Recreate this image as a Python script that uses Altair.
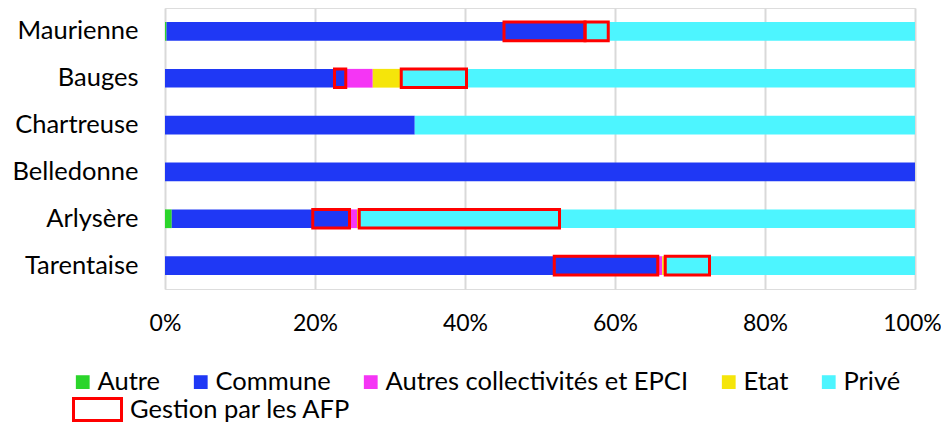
import altair as alt
import pandas as pd

regions = ["Maurienne", "Bauges", "Chartreuse", "Belledonne", "Arlysère", "Tarentaise"]

# share (%) of surface by owner type; "_afp" = part managed by the AFP
autre        = [0.2, 0.0, 0.0, 0.0, 0.9, 0.0]
commune      = [45.0, 22.6, 33.3, 100.0, 18.8, 51.9]
commune_afp  = [10.8, 1.5, 0.0, 0.0, 4.9, 13.8]
autres_coll  = [0.0, 3.6, 0.0, 0.0, 1.0, 0.6]
etat         = [0.0, 3.8, 0.0, 0.0, 0.3, 0.4]
prive_afp    = [3.1, 8.7, 0.0, 0.0, 26.7, 5.9]
prive        = [40.9, 59.8, 66.7, 0.0, 47.4, 27.4]

owners = ["Autre", "Commune", "Autres collectivités et EPCI", "Etat", "Privé"]
colors = ["#2BD52B", "#1F38F5", "#F535F5", "#F5E50A", "#4DF5FF"]
afp_label = "Gestion par les AFP"

segments = [
    ("Autre", False, autre),
    ("Commune", False, commune),
    ("Commune", True, commune_afp),
    ("Autres collectivités et EPCI", False, autres_coll),
    ("Etat", False, etat),
    ("Privé", True, prive_afp),
    ("Privé", False, prive),
]

rows = []
for i, reg in enumerate(regions):
    for k, (owner, is_afp, vals) in enumerate(segments):
        rows.append({
            "region": reg,
            "owner": owner,
            "afp": afp_label if is_afp else "non",
            "value": vals[i],
            "ord": k,
        })
df = pd.DataFrame(rows)

FONT = "Lato"

base = alt.Chart(df).transform_stack(
    stack="value",
    groupby=["region"],
    as_=["x0", "x1"],
    sort=[alt.SortField("ord", order="ascending")],
)

yenc = alt.Y(
    "region:N",
    sort=regions,
    title=None,
    scale=alt.Scale(paddingInner=0.6, paddingOuter=0.3),
    axis=alt.Axis(
        domain=False, ticks=False, labelFontSize=25.5, labelFont=FONT,
        labelColor="#000000", labelPadding=27, labelAlign="right",
        labelLimit=0,
    ),
)

xenc = alt.X(
    "x0:Q",
    title=None,
    scale=alt.Scale(domain=[0, 100], nice=False),
    axis=alt.Axis(
        values=[0, 20, 40, 60, 80, 100],
        labelExpr="datum.value + '%'",
        domain=False, ticks=False, grid=True,
        gridColor="#d9d9d9", gridWidth=2,
        labelFontSize=23, labelFont=FONT, labelColor="#000000",
        labelPadding=23, labelFlush=False,
        labelOffset={"condition": {"test": "datum.value == 100", "value": -3}, "value": 0},
    ),
)

bars = base.mark_bar(strokeWidth=0).encode(
    y=yenc,
    x=xenc,
    x2="x1:Q",
    color=alt.Color(
        "owner:N",
        scale=alt.Scale(domain=owners, range=colors),
        legend=alt.Legend(
            title=None, orient="none", direction="horizontal", columns=5,
            legendX=-95, legendY=361,
            symbolType="square", symbolSize=190, symbolStrokeWidth=0,
            labelFont=FONT, labelFontSize=25.5, labelColor="#000000",
            labelLimit=0, columnPadding=27, labelOffset=2,
        ),
    ),
)

afp = base.transform_filter(alt.datum.afp == afp_label).transform_filter(
    alt.datum.value > 0
).mark_bar(fill="#ffffff", fillOpacity=0, strokeWidth=3).encode(
    y=yenc,
    x=xenc,
    x2="x1:Q",
    stroke=alt.Stroke(
        "afp:N",
        scale=alt.Scale(domain=[afp_label], range=["#FF0000"]),
        legend=alt.Legend(
            title=None, orient="none", legendX=-93, legendY=376,
            symbolType="M-1,-0.46H1V0.46H-1Z", symbolSize=2304,
            symbolStrokeWidth=3, symbolFillColor="#ffffff",
            labelFont=FONT, labelFontSize=25.5, labelColor="#000000",
            labelLimit=0, labelOffset=7,
        ),
    ),
)

chart = alt.layer(bars, afp).resolve_scale(color="independent").properties(
    width=750,
    height=281,
    autosize=alt.AutoSizeParams(type="none"),
    padding={"left": 157, "top": 0, "right": 26, "bottom": 133},
).configure_view(stroke=None).configure(background="white")

chart.save("out.html", embed_options={"renderer": "svg", "actions": False})
